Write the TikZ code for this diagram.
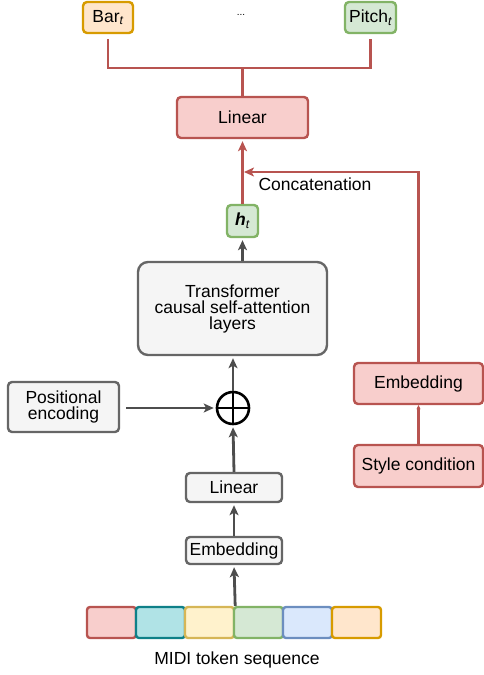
\documentclass[tikz,border=0pt]{standalone}
\usepackage{fontspec}
\setmainfont{Liberation Sans}
\usetikzlibrary{arrows.meta}
\usetikzlibrary{positioning}
\usetikzlibrary{calc}
\definecolor{grayfill}{HTML}{F5F5F5}
\definecolor{grayline}{HTML}{666666}
\definecolor{arrowgray}{HTML}{4D4D4D}
\definecolor{redfill}{HTML}{F8CECC}
\definecolor{redline}{HTML}{B85450}
\definecolor{greenfill}{HTML}{D5E8D4}
\definecolor{greenline}{HTML}{82B366}
\definecolor{orangefill}{HTML}{FFE6CC}
\definecolor{orangeline}{HTML}{D79B00}
\definecolor{yellowfill}{HTML}{FFF2CC}
\definecolor{yellowline}{HTML}{D6B656}
\definecolor{bluefill}{HTML}{DAE8FC}
\definecolor{blueline}{HTML}{6C8EBF}
\definecolor{tealfill}{HTML}{B0E3E6}
\definecolor{tealline}{HTML}{0E8088}
\tikzstyle{block}=[draw=grayline,fill=grayfill,rounded corners=4pt,line width=2.4pt,inner sep=1pt,align=center]
\tikzstyle{redblock}=[block,draw=redline,fill=redfill]
\tikzstyle{garrow}=[draw=arrowgray,line width=2.8pt,-{Stealth[length=10pt,width=9pt,inset=2.5pt]},shorten >=2pt]
\tikzstyle{rline}=[draw=redline,line width=2.4pt]
\tikzstyle{rarrow}=[rline,-{Stealth[length=10pt,width=9pt,inset=2.5pt]}]

\begin{document}
\begin{tikzpicture}[x=1pt,y=-1pt,font=\fontsize{17.5}{16}\selectfont]
\tikzstyle{token}=[draw,rounded corners=3pt,line width=2.4pt,minimum width=49pt,minimum height=31pt]
\useasboundingbox (0,0) rectangle (484,675);
% outputs
\node [block,draw=orangeline,fill=orangefill,minimum width=50pt,minimum height=31pt] (bar) at (108,17.5) {Bar\textsubscript{\itshape t}};
\node [font=\fontsize{10}{12}\selectfont] (dots) at (241,15) {...};
\node [block,draw=greenline,fill=greenfill,minimum width=51pt,minimum height=31pt] (pitch) at (370.5,17.5) {Pitch\textsubscript{\itshape t}};
\node [redblock,minimum width=131pt,minimum height=41pt] (lin) at (242.5,117.5) {Linear};
\node [block,draw=greenline,fill=greenfill,minimum width=31pt,minimum height=32pt] (h) at (242.5,221) {\textbf{\textit{h}}\textsubscript{\itshape t}};
% transformer part
\node [block,rounded corners=10pt,minimum width=189pt,minimum height=93pt] (trans) at (232.5,308.5) {Transformer\\causal self-attention\\layers};
\node [draw=black,circle,line width=2.6pt,minimum size=32pt,inner sep=0pt] (plus) at (233,408) {};
\draw [line width=2.6pt] (plus.north) -- (plus.south) (plus.west) -- (plus.east);
\node [block,minimum width=111pt,minimum height=50pt] (pos) at (63.5,407) {Positional\\encoding};
\node [block,minimum width=96pt,minimum height=29pt] (lin2) at (234,487.5) {Linear};
\node [block,minimum width=96pt,minimum height=27pt] (emb) at (234,550.5) {Embedding};
% style condition
\node [redblock,minimum width=129pt,minimum height=41pt] (emb2) at (418.5,383.5) {Embedding};
\node [redblock,minimum width=129pt,minimum height=42pt] (style) at (418.5,466) {Style condition};
% token sequence
\foreach \c [count=\i] in {red,teal,yellow,green,blue,orange}
  \node [token,draw=\c line,fill=\c fill] (tok\i) at (62.5+49*\i,622.5) {};
\node (seq) at (237,660) {MIDI token sequence};
% connectors
\coordinate (split) at (242.5,68);
\coordinate (cat) at (242.5,172);
\draw [rline] (lin.north) -- (split);
\draw [rline,shorten >=5pt] (split) -| (bar.south);
\draw [rline,shorten >=5pt] (split) -| (pitch.south);
\draw [rarrow,shorten >=2pt] (h.north) -- (lin.south);
\draw [rarrow,shorten >=1.5pt] (emb2.north) |- (cat);
\node (concat) at (315,184) {Concatenation};
\draw [rline,-{Stealth[length=4pt,width=4pt]}] (style.north) -- (emb2.south);
\draw [garrow] (h.south |- trans.north) -- (h.south);
\draw [garrow] (plus.north) -- (plus.north |- trans.south);
\draw [garrow,shorten <=6pt] (pos.east |- plus.west) -- (plus.west);
\draw [garrow] (lin2.north) -- (plus.south);
\draw [garrow] (emb.north) -- (lin2.south);
\draw [garrow] (tok3.north east) -- (emb.south);
\end{tikzpicture}
\end{document}
